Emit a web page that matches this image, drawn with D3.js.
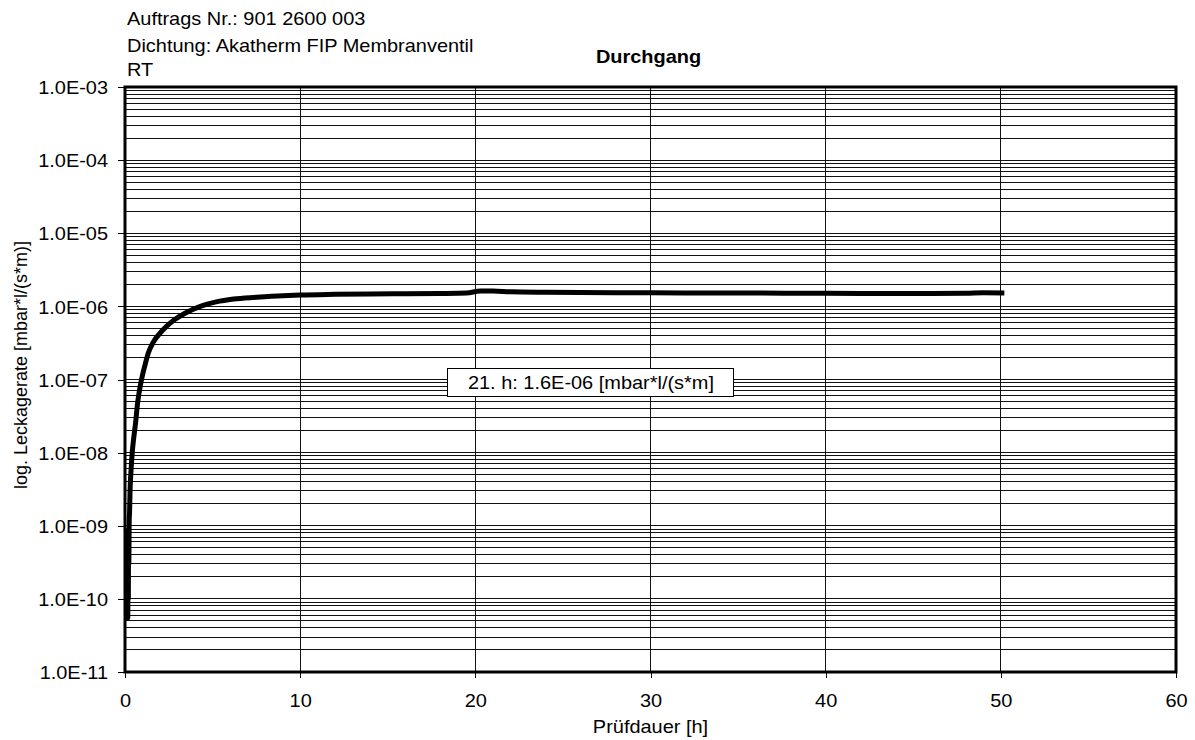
<!DOCTYPE html>
<html><head><meta charset="utf-8">
<script src="https://cdn.jsdelivr.net/npm/d3@7"></script>
<style>
body{margin:0;background:#fff}
svg{display:block}
text{font-family:"Liberation Sans",Arial,sans-serif;fill:#000}
</style>
</head><body><svg id="c" width="1195" height="740"></svg>
<script>
const headerLines = ["Auftrags Nr.: 901 2600 003", "Dichtung: Akatherm FIP Membranventil", "RT"];
const chartTitle = "Durchgang";
const xTitle = "Prüfdauer [h]";
const yTitle = "log. Leckagerate [mbar*l/(s*m)]";
const xTicks = [0, 10, 20, 30, 40, 50, 60];
const yTicks = [1e-11, 1e-10, 1e-9, 1e-8, 1e-7, 1e-6, 1e-5, 1e-4, 1e-3];
const yTickLabels = ["1.0E-11", "1.0E-10", "1.0E-09", "1.0E-08", "1.0E-07", "1.0E-06", "1.0E-05", "1.0E-04", "1.0E-03"];
const hours = [0.13, 0.145, 0.16, 0.175, 0.19, 0.205, 0.22, 0.24, 0.26, 0.29, 0.35, 0.42, 0.5, 0.6, 0.72, 0.86, 1.0, 1.15, 1.33, 1.6, 2.0, 2.4, 2.8, 3.4, 4.3, 5.2, 6.2, 7.5, 9, 10, 12, 14, 16, 18, 19.5, 20.3, 21, 22, 24, 26, 28, 30, 33, 36, 40, 43, 46, 48, 49, 50.2];
const leakRate = [5.2e-11, 6e-10, 5.5e-11, 8e-10, 1.0e-10, 9e-10, 3e-10, 1.2e-9, 1.5e-9, 3.1e-9, 6e-9, 1.05e-8, 1.6e-8, 2.5e-8, 4.8e-8, 7.9e-8, 1.15e-7, 1.6e-7, 2.3e-7, 3.2e-7, 4.3e-7, 5.4e-7, 6.5e-7, 8e-7, 1.0e-6, 1.15e-6, 1.26e-6, 1.33e-6, 1.4e-6, 1.43e-6, 1.46e-6, 1.48e-6, 1.49e-6, 1.5e-6, 1.52e-6, 1.62e-6, 1.62e-6, 1.58e-6, 1.56e-6, 1.55e-6, 1.54e-6, 1.53e-6, 1.52e-6, 1.52e-6, 1.51e-6, 1.5e-6, 1.5e-6, 1.51e-6, 1.53e-6, 1.52e-6];
const annotationText = "21. h: 1.6E-06 [mbar*l/(s*m]";
const annotationAt = [26.6, 9.2e-8];

const svg = d3.select("#c");
const L = 125, R = 1176, T = 87, B = 672;
const SX = 1.05, FS = 19;
const x = d3.scaleLinear().domain([0, 60]).range([L, R]);
const y = d3.scaleLog().domain([1e-11, 1e-3]).range([B, T]);

function txt(g, px, py, s, anchor, weight) {
  return g.append("text")
    .attr("transform", `translate(${px},${py}) scale(${SX},1)`)
    .attr("text-anchor", anchor || "start")
    .attr("font-size", FS)
    .attr("font-weight", weight || "normal")
    .text(s);
}

// gridlines
const minor = [];
for (let d = -11; d < -3; d++) for (let k = 1; k <= 9; k++) minor.push(k * Math.pow(10, d));
const grid = svg.append("g").attr("stroke", "#111").attr("stroke-width", 1).attr("shape-rendering", "crispEdges");
grid.selectAll("line.h").data(minor).join("line").attr("class", "h")
  .attr("x1", L).attr("x2", R).attr("y1", d => y(d)).attr("y2", d => y(d));
grid.selectAll("line.v").data(xTicks.slice(1, -1)).join("line").attr("class", "v")
  .attr("x1", d => x(d)).attr("x2", d => x(d)).attr("y1", T).attr("y2", B);

// axes
const ya = svg.append("g").attr("transform", `translate(${L},0)`)
  .call(d3.axisLeft(y).tickValues(yTicks).tickSize(7).tickFormat((d, i) => yTickLabels[i]));
ya.select(".domain").remove();
ya.selectAll("line").attr("stroke", "#000").attr("shape-rendering", "crispEdges");
ya.selectAll("text").attr("font-size", FS).attr("font-family", null)
  .attr("x", -17 / SX).attr("dy", "0.35em").attr("transform", `scale(${SX},1)`);

const xa = svg.append("g").attr("transform", `translate(0,${B})`)
  .call(d3.axisBottom(x).tickValues(xTicks).tickSize(6).tickFormat(d => String(d)));
xa.select(".domain").remove();
xa.selectAll("line").attr("stroke", "#000").attr("shape-rendering", "crispEdges");
xa.selectAll(".tick text").attr("font-size", FS).attr("font-family", null).attr("dy", null)
  .attr("y", null).attr("transform", `translate(0,35) scale(${SX},1)`);

// frame
svg.append("rect").attr("x", L).attr("y", T).attr("width", R - L).attr("height", B - T)
  .attr("fill", "none").attr("stroke", "#000").attr("stroke-width", 3);

// data line
const pts = hours.map((h, i) => [h, leakRate[i]]);
svg.append("path").datum(pts)
  .attr("fill", "none").attr("stroke", "#000").attr("stroke-width", 5)
  .attr("stroke-linejoin", "round").attr("stroke-linecap", "butt")
  .attr("d", d3.line().x(d => x(d[0])).y(d => y(d[1])).curve(d3.curveMonotoneX));

// annotation box
const ax = x(annotationAt[0]), ay = y(annotationAt[1]);
const ag = svg.append("g");
ag.append("rect").attr("x", ax - 143).attr("y", ay - 14).attr("width", 286).attr("height", 28)
  .attr("fill", "#fff").attr("stroke", "#000").attr("stroke-width", 1).attr("shape-rendering", "crispEdges");
txt(ag, ax, ay + 7, annotationText, "middle");

// texts
const tg = svg.append("g");
headerLines.forEach((s, i) => txt(tg, 127, [25, 51.5, 76][i], s, "start"));
txt(tg, (L + R) / 2 - 2, 63, chartTitle, "middle", "bold");
txt(tg, (L + R) / 2, 733, xTitle, "middle");
tg.append("text").attr("transform", `translate(27,${365}) rotate(-90)`)
  .attr("text-anchor", "middle").attr("font-size", 18).text(yTitle);
</script>
</body></html>
